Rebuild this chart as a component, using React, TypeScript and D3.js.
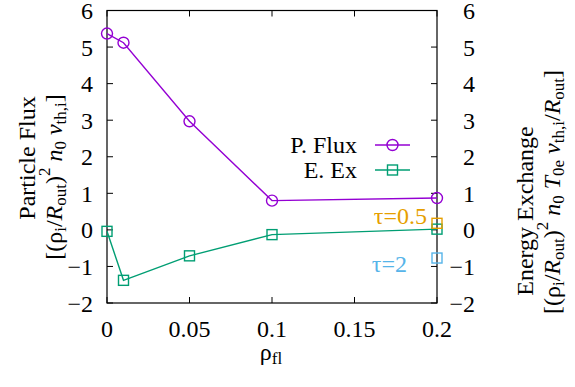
import React from 'react';
import * as d3 from 'd3';

// values
const rhoFl = [0, 0.01, 0.05, 0.1, 0.2];
const particleFlux = [5.37, 5.12, 2.97, 0.8, 0.87];
const energyExchange = [-0.04, -1.38, -0.71, -0.13, 0.02];
const tauLabels = ['τ=0.5', 'τ=2'];
const tauRho = [0.2, 0.2];
const tauValues = [0.18, -0.77];
const xTicks = [0, 0.05, 0.1, 0.15, 0.2];
const yTicks = [-2, -1, 0, 1, 2, 3, 4, 5, 6];
const legendLabels = ['P. Flux', 'E. Ex'];

const W = 575;
const H = 387;
const PURPLE = '#9400D3';
const GREEN = '#009E73';
const TAU_COLORS = ['#E69F00', '#56B4E9'];
const txt = { style: { fontFamily: "'Liberation Serif'", fontSize: '24px' } };

const App = () => {
    const x = d3.scaleLinear().domain([0, 0.2]).range([107, 437]);
    const y = d3.scaleLinear().domain([-2, 6]).range([303, 10.5]);
    const [x0, x1] = x.range();
    const [y0, y1] = y.range();
    const tick = 6;

    const line = d3.line<number>()
        .x((_, i) => x(rhoFl[i]))
        .y(d => y(d));

    const circle = (cx: number, cy: number, color: string, key: string) => (
        <circle key={key} cx={cx} cy={cy} r={5.5} fill="none" stroke={color} strokeWidth={1.4} />
    );
    const square = (cx: number, cy: number, color: string, key: string) => (
        <rect key={key} x={cx - 5} y={cy - 5} width={10} height={10} fill="none" stroke={color} strokeWidth={1.4} />
    );

    const sub = (t: string, k: string) => (
        <tspan key={k} style={{ fontSize: '17px' }} baselineShift="-25%">{t}</tspan>
    );
    const it = (t: string) => <tspan fontStyle="italic">{t}</tspan>;
    const fmt = (t: number) => (t < 0 ? '−' + Math.abs(t) : String(t));

    return (
        <svg width={W} height={H} style={{ position: 'absolute', left: 0, top: 0, background: '#fff' }}>
            <rect width={W} height={H} fill="#fff" />

            {/* frame + ticks (mirrored on all sides) */}
            <rect x={x0} y={y1} width={x1 - x0} height={y0 - y1} fill="none" stroke="#000" strokeWidth={1.2} />
            {xTicks.map(t => (
                <g key={'xt' + t}>
                    <line x1={x(t)} x2={x(t)} y1={y0} y2={y0 - tick} stroke="#000" />
                    <line x1={x(t)} x2={x(t)} y1={y1} y2={y1 + tick} stroke="#000" />
                    <text {...txt} x={x(t)} y={337} textAnchor="middle">{fmt(t)}</text>
                </g>
            ))}
            {yTicks.map(t => (
                <g key={'yt' + t}>
                    <line x1={x0} x2={x0 + tick} y1={y(t)} y2={y(t)} stroke="#000" />
                    <line x1={x1} x2={x1 - tick} y1={y(t)} y2={y(t)} stroke="#000" />
                    <text {...txt} x={93} y={y(t) + 8.5} textAnchor="end">{fmt(t)}</text>
                    <text {...txt} x={475} y={y(t) + 8.5} textAnchor="end">{fmt(t)}</text>
                </g>
            ))}

            {/* series */}
            <path d={line(particleFlux) || ''} fill="none" stroke={PURPLE} strokeWidth={1.4} />
            <path d={line(energyExchange) || ''} fill="none" stroke={GREEN} strokeWidth={1.4} />
            {particleFlux.map((v, i) => circle(x(rhoFl[i]), y(v), PURPLE, 'p' + i))}
            {energyExchange.map((v, i) => square(x(rhoFl[i]), y(v), GREEN, 'e' + i))}

            {/* tau points */}
            {tauValues.map((v, i) => square(x(tauRho[i]), y(v), TAU_COLORS[i], 't' + i))}
            <text {...txt} x={x(tauRho[0]) - 10} y={y(tauValues[0]) + 1} textAnchor="end" fill={TAU_COLORS[0]}>{tauLabels[0]}</text>
            <text {...txt} x={x(tauRho[1]) - 30} y={y(tauValues[1]) + 14} textAnchor="end" fill={TAU_COLORS[1]}>{tauLabels[1]}</text>

            {/* legend */}
            {legendLabels.map((lab, i) => {
                const ly = 145 + i * 25;
                const color = i === 0 ? PURPLE : GREEN;
                return (
                    <g key={'lg' + i}>
                        <text {...txt} x={357} y={ly + 8} textAnchor="end">{lab}</text>
                        <line x1={375} x2={410} y1={ly} y2={ly} stroke={color} strokeWidth={1.4} />
                        {i === 0 ? circle(392.5, ly, color, 'lc') : square(392.5, ly, color, 'ls')}
                    </g>
                );
            })}

            {/* x label */}
            <text {...txt} x={271} y={360} textAnchor="middle">ρ{sub('fl', 'fl')}</text>

            {/* left y label */}
            <text {...txt} transform="translate(35,158) rotate(-90)" textAnchor="middle">Particle Flux</text>
            <text {...txt} transform="translate(62,177) rotate(-90)" textAnchor="middle">
                [(ρ{sub('i', 'a')}/{it('R')}{sub('out', 'b')})
                <tspan style={{ fontSize: '17px' }} dy={-12}>2</tspan>
                <tspan dy={12}> </tspan>{it('n')}{sub('0', 'c')}
                {' '}{it('v')}{sub('th,i', 'd')}]
            </text>

            {/* right y label */}
            <text {...txt} transform="translate(533,211) rotate(-90)" textAnchor="middle">Energy Exchange</text>
            <text {...txt} transform="translate(560,192) rotate(-90)" textAnchor="middle">
                [(ρ{sub('i', 'a')}/{it('R')}{sub('out', 'b')})
                <tspan style={{ fontSize: '17px' }} dy={-12}>2</tspan>
                <tspan dy={12}> </tspan>{it('n')}{sub('0', 'c')}
                {' '}{it('T')}{sub('0e', 'e')}
                {' '}{it('v')}{sub('th,i', 'd')}/{it('R')}{sub('out', 'f')}]
            </text>
        </svg>
    );
};

export default App;
